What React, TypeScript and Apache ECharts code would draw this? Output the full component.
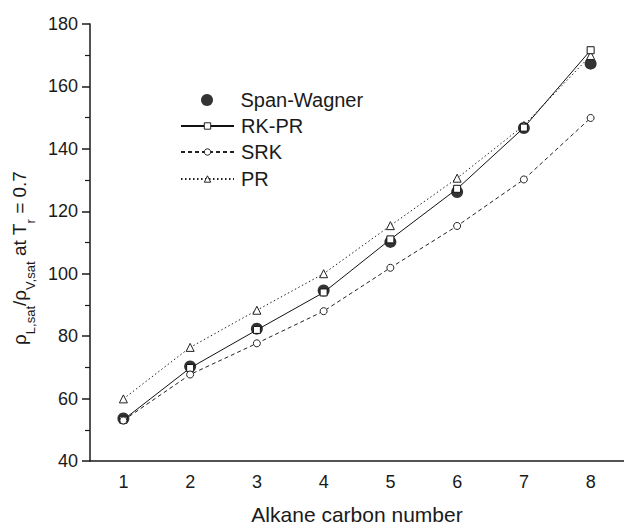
import React, { useEffect, useRef } from "react";
import * as echarts from "echarts";

const categories = ["1", "2", "3", "4", "5", "6", "7", "8"];
const spanWagner = [53.6, 70.3, 82.4, 94.6, 110.2, 126.2, 146.7, 167.3];
const rkpr = [53.2, 69.8, 82.0, 94.0, 111.0, 127.2, 146.8, 171.6];
const srk = [53.0, 67.7, 77.7, 88.0, 101.9, 115.3, 130.2, 149.9];
const pr = [59.9, 76.4, 88.3, 100.0, 115.4, 130.6, 147.5, 169.9];
const yTicks = { min: 40, max: 180, interval: 20 };

const FONT = "'Liberation Sans', Arial, Helvetica, sans-serif";
const INK = "#1a1a1a";

export default function App() {
  const ref = useRef<HTMLDivElement>(null);
  useEffect(() => {
    if (!ref.current) return;
    const chart = echarts.init(ref.current, undefined, { renderer: "svg" });
    const legendBase = {
      orient: "vertical",
      left: 180,
      padding: 0,
      itemWidth: 53,
      itemHeight: 8,
      selectedMode: false,
      textStyle: { fontSize: 20, color: INK, fontFamily: FONT, padding: [0, 0, 0, 2] },
      itemStyle: { color: "#fff", borderColor: "#222", borderWidth: 1 },
    };
    chart.setOption({
      animation: false,
      backgroundColor: "#fff",
      textStyle: { fontFamily: FONT },
      grid: { left: 90, right: -9, top: 24, bottom: 63 },
      legend: [
        {
          ...legendBase,
          left: 201,
          top: 90,
          itemHeight: 12,
          itemStyle: { color: "#000", borderWidth: 0 },
          data: ["Span-Wagner"],
        },
        { ...legendBase, top: 116, data: ["RK-PR"] },
        { ...legendBase, top: 142, data: ["SRK"] },
        { ...legendBase, top: 169, data: ["PR"] },
      ],
      graphic: [
        {
          type: "text",
          x: 10,
          y: 258,
          rotation: Math.PI / 2,
          style: {
            text: "{m|ρ}{s|L,sat}{m|/ρ}{s|V,sat}{m| at T}{s|r}{m| = 0.7}",
            align: "center",
            verticalAlign: "top",
            fill: INK,
            rich: {
              m: { fontSize: 19, lineHeight: 20, verticalAlign: "top", fontFamily: FONT, fill: INK },
              s: { fontSize: 13, lineHeight: 13, verticalAlign: "top", padding: [14, 0, 0, 0], fontFamily: FONT, fill: INK },
            },
          },
        },
      ],
      xAxis: {
        type: "category",
        data: categories,
        boundaryGap: true,
        name: "Alkane carbon number",
        nameLocation: "middle",
        nameGap: 43,
        nameTextStyle: { fontSize: 21, color: INK, fontFamily: FONT },
        axisLine: { lineStyle: { color: INK, width: 1.5 } },
        axisTick: { alignWithLabel: true, length: 8, lineStyle: { color: INK, width: 1.5 } },
        axisLabel: { fontSize: 18, color: INK, margin: 12, fontFamily: FONT },
        splitLine: { show: false },
      },
      yAxis: {
        type: "value",
        min: yTicks.min,
        max: yTicks.max,
        interval: yTicks.interval,
        axisLine: { show: true, lineStyle: { color: INK, width: 1.5 } },
        axisTick: { show: true, length: 8, lineStyle: { color: INK, width: 1.5 } },
        minorTick: { show: true, splitNumber: 2, length: 5, lineStyle: { color: INK, width: 1.2 } },
        axisLabel: { fontSize: 18, color: INK, margin: 12, fontFamily: FONT },
        splitLine: { show: false },
      },
      series: [
        {
          name: "Span-Wagner",
          type: "scatter",
          data: spanWagner,
          symbol: "circle",
          symbolSize: 12,
          itemStyle: { color: "#000" },
          z: 1,
        },
        {
          name: "RK-PR",
          type: "line",
          data: rkpr,
          symbol: "rect",
          symbolSize: 7,
          lineStyle: { color: "#111", width: 1, type: "solid" },
          itemStyle: { color: "#fff", borderColor: "#111", borderWidth: 1 },
          z: 3,
        },
        {
          name: "SRK",
          type: "line",
          data: srk,
          symbol: "circle",
          symbolSize: 7,
          lineStyle: { color: "#222", width: 1, type: [4, 3] },
          itemStyle: { color: "#fff", borderColor: "#222", borderWidth: 1 },
          z: 3,
        },
        {
          name: "PR",
          type: "line",
          data: pr,
          symbol: "triangle",
          symbolSize: 8,
          lineStyle: { color: "#222", width: 1, type: [1.5, 2.5] },
          itemStyle: { color: "#fff", borderColor: "#222", borderWidth: 1 },
          z: 2,
        },
      ],
    });
    return () => chart.dispose();
  }, []);
  return (
    <div
      ref={ref}
      style={{ position: "absolute", left: 0, top: 0, width: 624, height: 530 }}
    />
  );
}
